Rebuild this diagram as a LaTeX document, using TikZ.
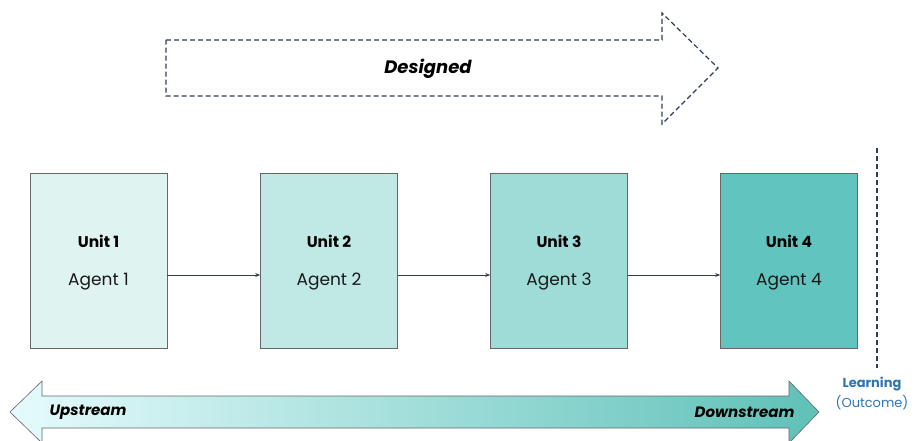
\documentclass[tikz,border=0pt]{standalone}
\usepackage{fontspec}
\setmainfont{Poppins}
\usetikzlibrary{arrows.meta}
\definecolor{navy}{HTML}{2F3D55}
\definecolor{cA}{HTML}{DFF3F1}
\definecolor{cB}{HTML}{C0E8E4}
\definecolor{cC}{HTML}{9FDCD7}
\definecolor{cD}{HTML}{62C4BE}
\definecolor{gl}{HTML}{E5FBFC}
\definecolor{gr}{HTML}{5FC1B8}
\definecolor{lblue}{HTML}{2E75B6}
\tikzset{
  unitbox/.style={draw=black!60, line width=0.6pt, minimum width=137pt, minimum height=175pt, inner sep=0pt},
  unittext/.style={font=\fontsize{15.5}{17}\selectfont\bfseries, text=black},
  agenttext/.style={font=\fontsize{17}{19}\selectfont, text=black!90},
  flow/.style={navy, line width=0.8pt, -{Stealth[length=5pt,width=4pt]}},
  arrowlabel/.style={font=\fontsize{15}{17}\selectfont\bfseries\itshape, text=black}
}
\begin{document}
\begin{tikzpicture}[x=1pt,y=-1pt]
\useasboundingbox (0,0) rectangle (914,441);
% designed arrow
\draw[navy, line width=1.2pt, dash pattern=on 5pt off 3pt, line join=miter]
  (166,40) -- (662,40) -- (662,13) -- (718,68) -- (662,124) -- (662,96) -- (166,96) -- cycle;
\node[font=\fontsize{18}{20}\selectfont\bfseries\itshape, text=black] (des) at (428,69) {Designed};
% boxes
\node[unitbox, fill=cA] (b1) at (98.5,260.5) {};
\node[unitbox, fill=cB] (b2) at (329,260.5) {};
\node[unitbox, fill=cC] (b3) at (559,260.5) {};
\node[unitbox, fill=cD] (b4) at (789,260.5) {};
\foreach \i in {1,2,3,4}{
  \node[unittext] (u\i) at ([yshift=19.5pt]b\i.center) {Unit \i};
  \node[agenttext] (a\i) at ([yshift=-21pt]b\i.center) {Agent \i};
}
\draw[flow] ([yshift=-14.5pt]b1.east) -- ([yshift=-14.5pt]b2.west);
\draw[flow] ([yshift=-14.5pt]b2.east) -- ([yshift=-14.5pt]b3.west);
\draw[flow] ([yshift=-14.5pt]b3.east) -- ([yshift=-14.5pt]b4.west);
% dashed vertical line
\coordinate (vt) at (877,148);
\coordinate (vb) at (877,368);
\draw[navy, line width=1.4pt, dash pattern=on 5pt off 3pt] (vt) -- (vb);
% bottom double arrow
\path[draw=black!60, line width=0.6pt, left color=gl, right color=gr]
  (10,412) -- (42,381) -- (42,396) -- (789,396) -- (789,381) -- (819,412)
  -- (789,443) -- (789,428) -- (42,428) -- (42,443) -- cycle;
\node[arrowlabel, anchor=west] (up) at (46,412) {Upstream};
\node[arrowlabel, anchor=east] (down) at (798,412) {Downstream};
% learning
\node[font=\fontsize{13}{15}\selectfont\bfseries, text=lblue] (learn) at (872,384) {Learning};
\node[font=\fontsize{13}{15}\selectfont, text=lblue] (outc) at (872,403) {(Outcome)};
\end{tikzpicture}
\end{document}
